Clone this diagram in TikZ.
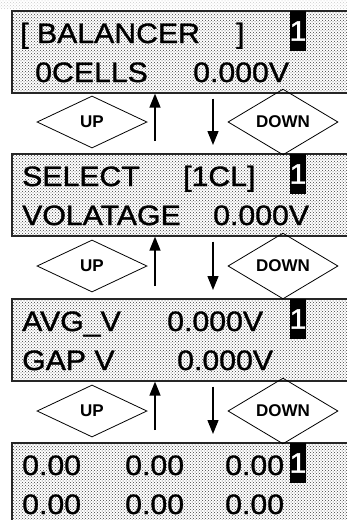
\documentclass[tikz,border=0pt]{standalone}
\usepackage{fontspec}
\setmainfont{Liberation Sans}
\newfontfamily\lcdfont[FakeStretch=1.08,FakeBold=1.2]{Liberation Sans}
\usetikzlibrary{arrows.meta,positioning,shapes.geometric,patterns}

\begin{document}
\begin{tikzpicture}[x=1pt, y=-1pt,
    panel/.style={
        rectangle, draw=black!85, line width=1.6pt, anchor=north west,
        pattern=crosshatch dots, pattern color=black!75,
        minimum width=350pt, minimum height=82pt, inner sep=0pt
    },
    lcd/.style={
        anchor=base west, inner sep=0pt,
        font=\lcdfont\fontsize{28}{30}\selectfont
    },
    cursor/.style={
        rectangle, fill=black, text=white, inner sep=0pt,
        minimum width=12pt, minimum height=40pt,
        font=\lcdfont\fontsize{28}{30}\selectfont
    },
    key/.style={
        diamond, draw=black, line width=0.8pt, inner sep=0pt,
        minimum width=110pt, minimum height=52pt,
        font=\bfseries\fontsize{17}{18}\selectfont
    },
    arrow/.style={-{Triangle[width=11pt,length=14pt]}, line width=1.4pt}
]
\useasboundingbox (0,0) rectangle (347,520);
\fill[pattern=crosshatch dots, pattern color=black!20] (0,0) rectangle (347,8);

% screen 1
\node[panel] (p1) at (11,10) {};
\node[lcd] (balancer) at (20,43) {[ BALANCER};
\node[lcd] (bracket) at (236,43) {]};
\node[cursor] (cur1) at (298,31) {1};
\node[lcd] (cells) at (35,82) {0CELLS};
\node[lcd] (volt1) at (193,82) {0.000V};

% screen 2
\node[panel] (p2) at (11,153) {};
\node[lcd] (select) at (22,186) {SELECT};
\node[lcd] (cell) at (183,186) {[1CL]};
\node[cursor] (cur2) at (298,174) {1};
\node[lcd] (voltage) at (22,225) {VOLATAGE};
\node[lcd] (volt2) at (213,225) {0.000V};

% screen 3
\node[panel] (p3) at (11,298) {};
\node[lcd] (avg) at (22,331) {AVG\_V};
\node[lcd] (avgv) at (167,331) {0.000V};
\node[cursor] (cur3) at (298,319) {1};
\node[lcd] (gap) at (22,370) {GAP V};
\node[lcd] (gapv) at (177,370) {0.000V};

% screen 4
\node[panel] (p4) at (11,442) {};
\node[lcd] (va) at (22,475) {0.00};
\node[lcd] (vb) at (125,475) {0.00};
\node[lcd] (vc) at (225,475) {0.00};
\node[cursor] (cur4) at (298,463) {1};
\node[lcd] (vd) at (22,514) {0.00};
\node[lcd] (ve) at (125,514) {0.00};
\node[lcd] (vf) at (225,514) {0.00};

% keys
\node[key] (up1) at (92,122) {UP};
\node[key] (down1) at (283,122) {DOWN};
\node[key] (up2) at (92,266) {UP};
\node[key] (down2) at (283,266) {DOWN};
\node[key] (up3) at (92,411) {UP};
\node[key] (down3) at (283,411) {DOWN};

\coordinate (upx) at (155,0);
\coordinate (dnx) at (213,0);
\draw[arrow, shorten <=12pt] (p2.north -| upx) -- (p1.south -| upx);
\draw[arrow, shorten <=5pt, shorten >=8pt] (p1.south -| dnx) -- (p2.north -| dnx);
\draw[arrow, shorten <=12pt] (p3.north -| upx) -- (p2.south -| upx);
\draw[arrow, shorten <=5pt, shorten >=8pt] (p2.south -| dnx) -- (p3.north -| dnx);
\draw[arrow, shorten <=12pt] (p4.north -| upx) -- (p3.south -| upx);
\draw[arrow, shorten <=5pt, shorten >=8pt] (p3.south -| dnx) -- (p4.north -| dnx);
\end{tikzpicture}
\end{document}
